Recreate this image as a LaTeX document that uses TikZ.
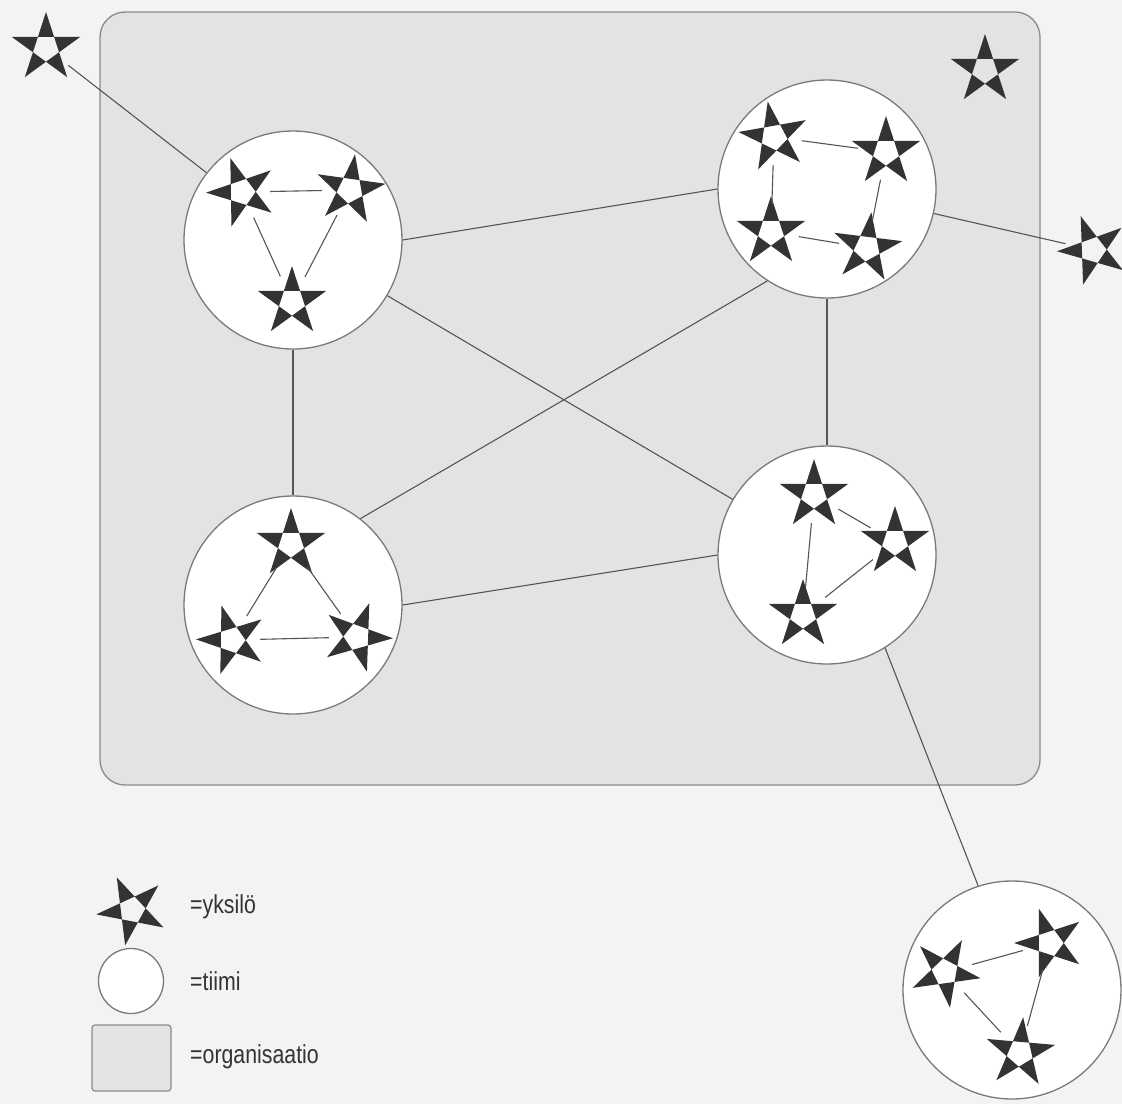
\documentclass[tikz,border=0pt]{standalone}
\usepackage{fontspec}
\setmainfont{Liberation Sans}[FakeStretch=0.82]
\definecolor{pagebg}{HTML}{F3F3F3}
\definecolor{orgfill}{HTML}{E3E3E3}
\definecolor{orgline}{HTML}{8A8A8A}
\definecolor{teamline}{HTML}{7A7A7A}
\definecolor{starcol}{HTML}{333333}
\definecolor{conncol}{HTML}{555555}
\definecolor{txtcol}{HTML}{333333}
\tikzset{
  x=1pt, y=-1pt,
  team/.style={circle, draw=teamline, line width=1.3pt, fill=white, minimum size=218pt, inner sep=0pt},
  snode/.style={circle, minimum size=56pt, inner sep=0pt},
  starfill/.style={fill=starcol, even odd rule},
  conn/.style={draw=conncol, line width=1.1pt},
  legtext/.style={anchor=west, text=txtcol, font=\fontsize{26}{30}\selectfont, inner sep=0pt},
}
\newcommand{\indiv}[4]{%
  \begin{scope}[shift={(#2,#3)}]
    \fill[starfill] ({-(90+#4)}:36) -- ({-(234+#4)}:36) -- ({-(18+#4)}:36) -- ({-(162+#4)}:36) -- ({-(306+#4)}:36) -- cycle;
  \end{scope}
  \node[snode] (#1) at (#2,#3) {};
}
\begin{document}
\begin{tikzpicture}
\useasboundingbox (0,0) rectangle (1122,1104);
\fill[pagebg] (0,0) rectangle (1122,1104);
% organisation
\draw[orgline, fill=orgfill, line width=1.3pt, rounded corners=25pt] (100,12) rectangle (1040,785);

% teams
\node[team] (C1) at (293,240) {};
\node[team] (C2) at (827,189) {};
\node[team] (C3) at (293,605) {};
\node[team] (C4) at (827,555) {};
\node[team] (C5) at (1012,990) {};

% individuals
\indiv{S0}{46}{48}{0}
\indiv{ST}{985}{70}{0}
\indiv{SR}{1093}{250}{20}
\indiv{S1a}{242}{192}{19}
\indiv{S1b}{350}{190}{-8}
\indiv{S1c}{292}{302}{0}
\indiv{S2a}{774}{137}{10}
\indiv{S2b}{886}{152}{0}
\indiv{S2c}{771}{232}{0}
\indiv{S2d}{867}{248}{-7}
\indiv{S3a}{291}{544}{0}
\indiv{S3b}{232}{640}{17}
\indiv{S3c}{357}{637}{-20}
\indiv{S4a}{814}{495}{0}
\indiv{S4b}{895}{542}{0}
\indiv{S4c}{803}{615}{0}
\indiv{S5a}{945}{972}{-28}
\indiv{S5b}{1050}{943}{18}
\indiv{S5c}{1020}{1053}{-5}

% connectors between teams and outside
\draw[conn] (S0) -- (C1);
\draw[conn] (C1.east) -- (C2.west);
\draw[conn] (C1.south) -- (C3.north);
\draw[conn] (C1) -- (C4);
\draw[conn] (C3.52) -- (C2.237);
\draw[conn] (C3.east) -- (C4.west);
\draw[conn] (C2.south) -- (C4.north);
\draw[conn] (C2) -- (SR);
\draw[conn] (C4.-58) -- (C5.108);

% connectors inside teams
\draw[conn] (S1a) -- (S1b);
\draw[conn] (S1a) -- (S1c);
\draw[conn] (S1b) -- (S1c);
\draw[conn] (S2a) -- (S2b);
\draw[conn] (S2b) -- (S2d);
\draw[conn] (S2d) -- (S2c);
\draw[conn] (S2c) -- (S2a);
\draw[conn] (S3a) -- (S3b);
\draw[conn] (S3a) -- (S3c);
\draw[conn] (S3b) -- (S3c);
\draw[conn] (S4a) -- (S4b);
\draw[conn] (S4a) -- (S4c);
\draw[conn] (S4b) -- (S4c);
\draw[conn] (S5a) -- (S5b);
\draw[conn] (S5a) -- (S5c);
\draw[conn] (S5b) -- (S5c);

% legend
\indiv{L1}{132}{910}{25}
\node[circle, draw=teamline, line width=1.3pt, fill=white, minimum size=65pt, inner sep=0pt] (L2) at (131,981) {};
\draw[orgline, fill=orgfill, line width=1.2pt, rounded corners=3pt] (92,1025) rectangle (171,1091);
\node[legtext] (T1) at (190,907) {=yksilö};
\node[legtext] (T2) at (190,981) {=tiimi};
\node[legtext] (T3) at (190,1057) {=organisaatio};
\end{tikzpicture}
\end{document}
